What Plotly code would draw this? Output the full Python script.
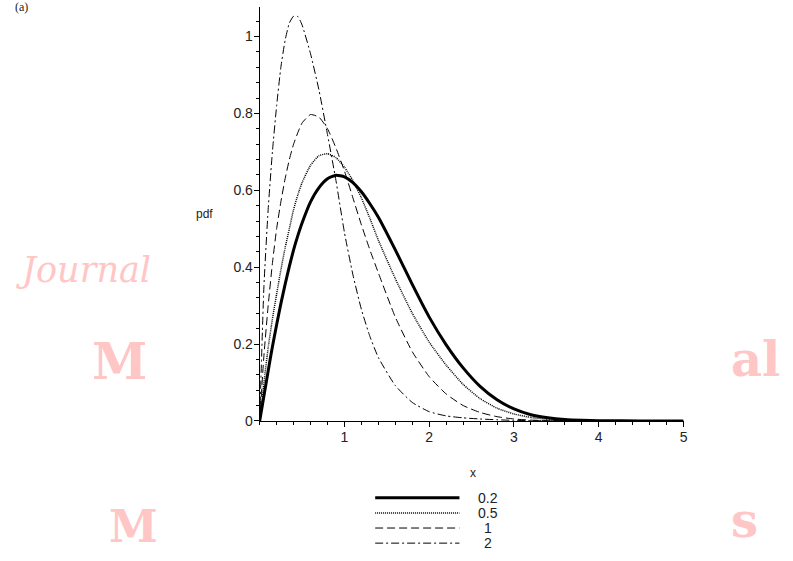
import plotly.graph_objects as go

W, H = 793, 561

# ---------------- data ----------------
x_vals = [0, 0.05, 0.1, 0.15, 0.2, 0.25, 0.3, 0.35, 0.4, 0.45, 0.5, 0.6, 0.7, 0.8,
          0.9, 1.0, 1.1, 1.2, 1.3, 1.4, 1.6, 1.8, 2.0, 2.2, 2.4, 2.6, 2.8, 3.0,
          3.2, 3.4, 3.6, 3.8, 4.0, 4.5, 5.0]

pdf_02 = [0, 0.065, 0.13, 0.193, 0.25, 0.305, 0.355, 0.402, 0.445, 0.482, 0.515, 0.57,
          0.607, 0.63, 0.639, 0.635, 0.62, 0.596, 0.565, 0.53, 0.445, 0.355, 0.27,
          0.198, 0.138, 0.09, 0.055, 0.031, 0.016, 0.008, 0.0035, 0.0014, 0.0005, 0, 0]

pdf_05 = [0, 0.1, 0.19, 0.265, 0.33, 0.393, 0.45, 0.5, 0.55, 0.588, 0.62, 0.665,
          0.69, 0.695, 0.685, 0.66, 0.625, 0.58, 0.527, 0.47, 0.37, 0.28, 0.205,
          0.145, 0.095, 0.058, 0.033, 0.018, 0.009, 0.004, 0.0015, 0.0006, 0.0002, 0, 0]

pdf_1 = [0, 0.17, 0.30, 0.41, 0.50, 0.57, 0.63, 0.68, 0.72, 0.75, 0.775, 0.797,
         0.79, 0.76, 0.71, 0.65, 0.58, 0.51, 0.445, 0.385, 0.27, 0.18, 0.115,
         0.07, 0.04, 0.022, 0.011, 0.005, 0.002, 0.001, 0.0004, 0.0001, 0, 0, 0]

pdf_2 = [0, 0.35, 0.55, 0.70, 0.82, 0.92, 0.99, 1.035, 1.053, 1.052, 1.03, 0.955,
         0.86, 0.745, 0.625, 0.49, 0.38, 0.29, 0.22, 0.165, 0.092, 0.048, 0.024,
         0.013, 0.008, 0.005, 0.003, 0.0015, 0.0008, 0.0004, 0.0002, 0.0001, 0, 0, 0]

series_names = ["0.2", "0.5", "1", "2"]
series_values = [pdf_02, pdf_05, pdf_1, pdf_2]

y_tick_vals = [0, 0.2, 0.4, 0.6, 0.8, 1]
y_tick_text = ["0", "0.2", "0.4", "0.6", "0.8", "1"]
x_tick_vals = [1, 2, 3, 4, 5]
x_tick_text = ["1", "2", "3", "4", "5"]

legend_rows = [0, 1, 2, 3]
legend_sample_x = [0, 1]

# ---------------- styles ----------------
line_styles = [
    dict(width=3, dash="solid"),
    dict(width=1.5, dash="1px,1px"),
    dict(width=1, dash="8px,4px"),
    dict(width=1, dash="8px,3px,2px,3px"),
]
FONT = "Liberation Sans, Arial, sans-serif"
PINK = "#FFC6C6"
TXT = "#222"

LEG_TOP, LEG_STEP = 505, 15.33


def pxx(p):
    return p / W


def pxy(p):
    return 1 - p / H


fig = go.Figure()

for name, ys, st in zip(series_names, series_values, line_styles):
    fig.add_trace(go.Scatter(
        x=x_vals, y=ys, mode="lines", name=name, showlegend=False,
        line=dict(color="black", shape="spline", smoothing=0.5, **st),
        cliponaxis=False, xaxis="x", yaxis="y"))

# legend keys on an auxiliary hidden axis
for row, name, st in zip(legend_rows, series_names, line_styles):
    fig.add_trace(go.Scatter(
        x=legend_sample_x, y=[row, row], mode="lines", showlegend=False,
        hoverinfo="skip", line=dict(color="black", **st),
        cliponaxis=False, xaxis="x2", yaxis="y2"))

annotations = []
# legend labels
for row, name in zip(legend_rows, series_names):
    annotations.append(dict(
        x=pxx(490.5), y=pxy(LEG_TOP + LEG_STEP * row), xref="paper", yref="paper",
        text=name, showarrow=False, xanchor="center", yanchor="middle",
        font=dict(family=FONT, size=14, color=TXT)))

# axis labels
annotations.append(dict(x=pxx(206), y=pxy(217), xref="paper", yref="paper", text="pdf",
                        showarrow=False, xanchor="center", yanchor="middle",
                        font=dict(family=FONT, size=12, color=TXT)))
annotations.append(dict(x=pxx(475), y=pxy(480), xref="paper", yref="paper", text="x",
                        showarrow=False, xanchor="center", yanchor="middle",
                        font=dict(family=FONT, size=12, color=TXT)))

# watermark fragments
annotations.append(dict(x=pxx(84), y=pxy(274), xref="paper", yref="paper", text="Journal",
                        showarrow=False, xanchor="center", yanchor="middle",
                        font=dict(family="DejaVu Serif", size=35, color=PINK, style="italic")))
annotations.append(dict(x=pxx(90), y=pxy(367), xref="paper", yref="paper", text="<b>M</b>",
                        showarrow=False, xanchor="left", yanchor="middle",
                        font=dict(family="DejaVu Serif", size=50, color=PINK)))
annotations.append(dict(x=pxx(733), y=pxy(364), xref="paper", yref="paper", text="<b>al</b>",
                        showarrow=False, xanchor="left", yanchor="middle",
                        font=dict(family="DejaVu Serif", size=48, color=PINK)))
annotations.append(dict(x=pxx(108), y=pxy(534), xref="paper", yref="paper", text="<b>M</b>",
                        showarrow=False, xanchor="left", yanchor="middle",
                        font=dict(family="DejaVu Serif", size=44, color=PINK)))
annotations.append(dict(x=pxx(733), y=pxy(528), xref="paper", yref="paper", text="<b>s</b>",
                        showarrow=False, xanchor="left", yanchor="middle",
                        font=dict(family="DejaVu Serif", size=48, color=PINK)))
annotations.append(dict(x=pxx(22), y=pxy(7), xref="paper", yref="paper", text="(a)",
                        showarrow=False, xanchor="center", yanchor="middle",
                        font=dict(family="Liberation Serif", size=12, color=TXT)))

axis_common = dict(showgrid=False, zeroline=False, showline=True, linecolor="black",
                   linewidth=1, ticks="outside", ticklen=5, tickwidth=1,
                   tickcolor="black", ticklabelstandoff=-2,
                   tickfont=dict(family=FONT, size=14, color=TXT))

fig.update_layout(
    width=W, height=H,
    margin=dict(l=0, r=0, t=0, b=0),
    paper_bgcolor="white", plot_bgcolor="white",
    showlegend=False,
    xaxis=dict(domain=[pxx(261), pxx(687)], range=[0, 5], anchor="y",
               tickmode="array", tickvals=x_tick_vals, ticktext=x_tick_text,
               minor=dict(dtick=0.2, tick0=0, ticks="outside", ticklen=3,
                          tickcolor="black", tickwidth=1),
               **axis_common),
    yaxis=dict(domain=[1 - 427 / H, 1 - 7 / H], range=[0, 1.077], anchor="x",
               tickmode="array", tickvals=y_tick_vals, ticktext=y_tick_text,
               minor=dict(dtick=0.04, tick0=0, ticks="outside", ticklen=3,
                          tickcolor="black", tickwidth=1),
               **axis_common),
    xaxis2=dict(domain=[pxx(377), pxx(462)], range=[0, 1], anchor="y2", visible=False),
    yaxis2=dict(domain=[1 - 556 / H, 1 - 500 / H], range=[3.326, -0.326], anchor="x2",
                visible=False),
    annotations=annotations,
)

fig.write_html("out.html")
